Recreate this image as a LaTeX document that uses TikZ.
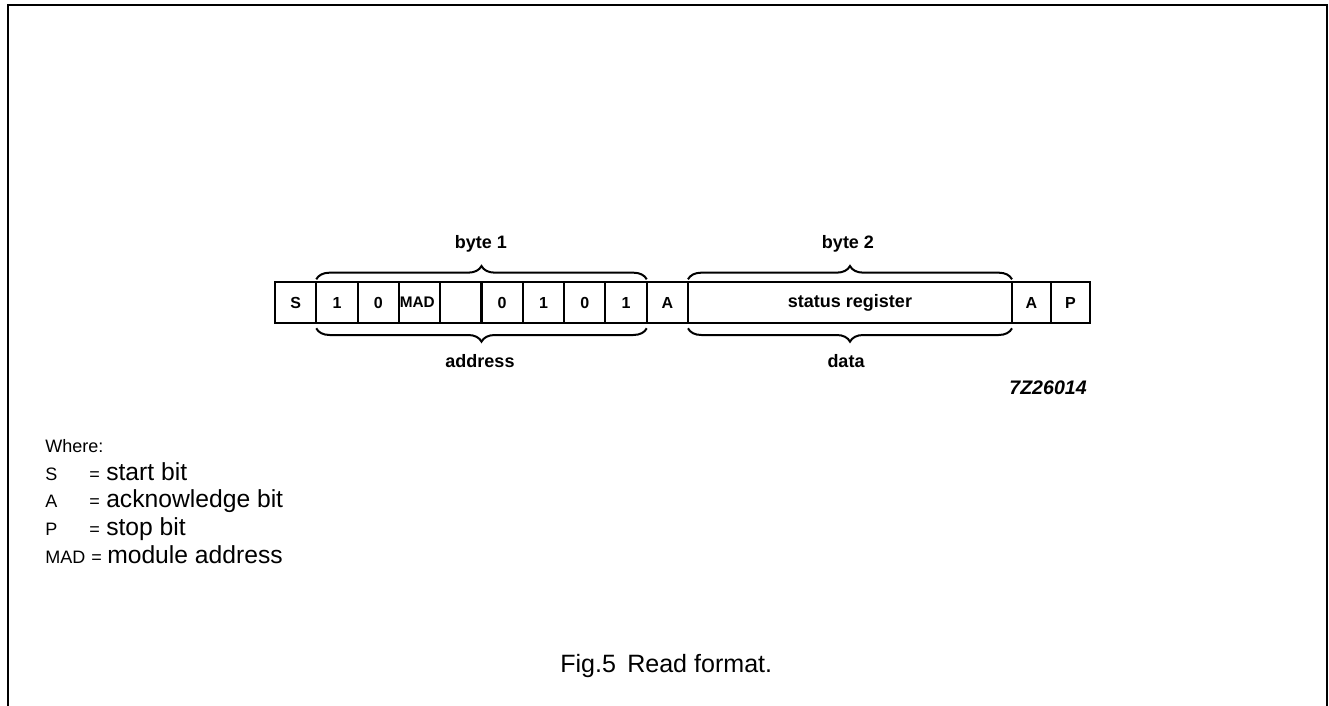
\documentclass[tikz,border=0pt]{standalone}
\usepackage{fontspec}
\setmainfont{Liberation Sans}
\usetikzlibrary{decorations.pathreplacing}

\tikzset{
  bitcell/.style={draw, line width=1.5pt, outer sep=0pt, inner sep=0pt, minimum width=31pt, minimum height=30.75pt, font=\fontsize{12}{13}\selectfont\bfseries},
  fieldbrace/.style={decorate, decoration={brace, amplitude=10pt, raise=2pt}, line width=1.5pt},
  fieldlabel/.style={inner sep=0.75pt, font=\fontsize{13.5}{14}\selectfont\bfseries},
  keysym/.style={anchor=base west, inner sep=0pt, font=\fontsize{13.5}{14}\selectfont},
  keytext/.style={anchor=base west, inner sep=0pt, font=\fontsize{18.5}{20}\selectfont},
}

\begin{document}
\begin{tikzpicture}[x=0.75pt,y=0.75pt,yscale=-1,xscale=1]
\useasboundingbox (0,0) rectangle (1329,706);

%Shape: Frame (open at the bottom)
\draw [line width=1pt] (8,706) -- (8,5) -- (1327,5) -- (1327,706) ;

%Bit cells
\node [bitcell] (start) at (295.65,302.5) {S};
\node [bitcell] (bita) at (336.95,302.5) {1};
\node [bitcell] (bitb) at (378.25,302.5) {0};
\node [bitcell, font=\fontsize{11.5}{12}\selectfont\bfseries] (mad) at (419.55,302.5) {\makebox[29.5pt][l]{MAD}};
\node [bitcell] (bitd) at (460.85,302.5) {};
\node [bitcell] (bite) at (502.15,302.5) {0};
\node [bitcell] (bitf) at (543.45,302.5) {1};
\node [bitcell] (bitg) at (584.75,302.5) {0};
\node [bitcell] (bith) at (626.05,302.5) {1};
\node [bitcell] (acka) at (667.35,302.5) {A};
\node [bitcell, minimum width=243pt, font=\fontsize{13.5}{14}\selectfont\bfseries] (status) at (850,302.5) {status register};
\node [bitcell, minimum width=29.25pt] (ackb) at (1031.5,302.5) {A};
\node [bitcell, minimum width=29.25pt] (stop) at (1070.5,302.5) {P};

%Braces
\draw [fieldbrace] (bita.north west) -- (bith.north east) ;
\draw [fieldbrace] (status.north west) -- (status.north east) ;
\draw [fieldbrace, decoration={mirror, raise=4pt}] (bita.south west) -- (bith.south east) ;
\draw [fieldbrace, decoration={mirror, raise=4pt}] (status.south west) -- (status.south east) ;

% Text Node
\node [fieldlabel] (byteone) at (481,244) {byte 1};
% Text Node
\node [fieldlabel] (bytetwo) at (848,244) {byte 2};
% Text Node
\node [fieldlabel] (addr) at (480,361) {address};
% Text Node
\node [fieldlabel] (datalbl) at (846,361) {data};
% Text Node
\node [fieldlabel, anchor=east, font=\fontsize{14.7}{15}\selectfont\bfseries\itshape] (figcode) at (1088,388) {7Z26014};

% Key
\node [keysym] (keyhead) at (45,452) {Where:};
\node [keysym] (keys) at (45,480) {S};
\node [keysym] (keyseq) at (89,480) {=};
\node [keytext] (keyst) at (106,480) {start bit};
\node [keysym] (keya) at (45,507) {A};
\node [keysym] (keyaeq) at (89,507) {=};
\node [keytext] (keyat) at (106,507) {acknowledge bit};
\node [keysym] (keyp) at (45,535) {P};
\node [keysym] (keypeq) at (89,535) {=};
\node [keytext] (keypt) at (106,535) {stop bit};
\node [keysym] (keym) at (45,563) {MAD};
\node [keysym] (keymeq) at (91,563) {=};
\node [keytext] (keymt) at (107,563) {module address};

% Caption
\node [anchor=base west, inner sep=0pt, font=\fontsize{18.8}{20}\selectfont] (caption) at (560,672) {Fig.5\hspace{0.45em}Read format.};
\end{tikzpicture}
\end{document}
